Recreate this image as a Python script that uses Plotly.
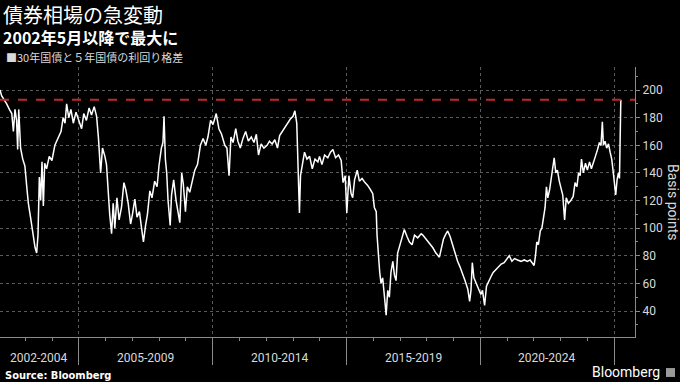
import plotly.graph_objects as go

# 30y - 5y JGB yield spread (basis points) (x in decimal years)
years = [
    2002.05, 2002.11, 2002.20, 2002.30, 2002.40, 2002.49, 2002.55, 2002.61, 2002.67, 2002.71,
    2002.75, 2002.82, 2002.90, 2002.98, 2003.05, 2003.11, 2003.19, 2003.29, 2003.36, 2003.42,
    2003.47, 2003.52, 2003.57, 2003.62, 2003.67, 2003.72, 2003.79, 2003.89, 2003.99, 2004.10,
    2004.23, 2004.33, 2004.41, 2004.48, 2004.54, 2004.62, 2004.70, 2004.79, 2004.89, 2004.99,
    2005.10, 2005.18, 2005.28, 2005.38, 2005.47, 2005.57, 2005.66, 2005.73, 2005.81, 2005.88,
    2005.97, 2006.03, 2006.09, 2006.15, 2006.22, 2006.28, 2006.34, 2006.42, 2006.50, 2006.59,
    2006.68, 2006.75, 2006.84, 2006.93, 2007.00, 2007.09, 2007.17, 2007.26, 2007.34, 2007.41,
    2007.49, 2007.56, 2007.65, 2007.73, 2007.83, 2007.92, 2007.99, 2008.08, 2008.14, 2008.18,
    2008.23, 2008.28, 2008.33, 2008.41, 2008.46, 2008.54, 2008.63, 2008.70, 2008.77, 2008.84,
    2008.90, 2008.98, 2009.05, 2009.14, 2009.23, 2009.33, 2009.43, 2009.54, 2009.64, 2009.74,
    2009.82, 2009.92, 2010.01, 2010.13, 2010.23, 2010.33, 2010.45, 2010.53, 2010.61, 2010.68,
    2010.76, 2010.86, 2010.94, 2011.03, 2011.13, 2011.23, 2011.33, 2011.44, 2011.54, 2011.63,
    2011.71, 2011.81, 2011.91, 2012.03, 2012.12, 2012.22, 2012.32, 2012.42, 2012.50, 2012.60,
    2012.70, 2012.80, 2012.90, 2013.00, 2013.07, 2013.14, 2013.19, 2013.24, 2013.28, 2013.34,
    2013.43, 2013.52, 2013.62, 2013.72, 2013.82, 2013.93, 2013.99, 2014.08, 2014.18, 2014.30,
    2014.40, 2014.49, 2014.59, 2014.70, 2014.80, 2014.87, 2014.95, 2015.01, 2015.09, 2015.17,
    2015.23, 2015.30, 2015.40, 2015.48, 2015.58, 2015.69, 2015.79, 2015.89, 2015.98, 2016.04,
    2016.11, 2016.14, 2016.19, 2016.24, 2016.29, 2016.35, 2016.42, 2016.48, 2016.54, 2016.60,
    2016.66, 2016.73, 2016.79, 2016.85, 2016.91, 2016.99, 2017.06, 2017.16, 2017.26, 2017.35,
    2017.45, 2017.54, 2017.66, 2017.79, 2017.85, 2017.97, 2018.10, 2018.22, 2018.34, 2018.47,
    2018.54, 2018.62, 2018.69, 2018.78, 2018.87, 2018.97, 2019.07, 2019.15, 2019.24, 2019.34,
    2019.43, 2019.53, 2019.60, 2019.65, 2019.70, 2019.76, 2019.84, 2019.94, 2020.02, 2020.08,
    2020.16, 2020.23, 2020.31, 2020.40, 2020.48, 2020.58, 2020.68, 2020.78, 2020.89, 2020.98,
    2021.08, 2021.18, 2021.28, 2021.39, 2021.52, 2021.64, 2021.76, 2021.86, 2021.95, 2022.01,
    2022.06, 2022.11, 2022.17, 2022.24, 2022.30, 2022.36, 2022.42, 2022.47, 2022.52, 2022.59,
    2022.64, 2022.70, 2022.76, 2022.82, 2022.88, 2022.95, 2023.01, 2023.08, 2023.15, 2023.21,
    2023.29, 2023.38, 2023.47, 2023.54, 2023.61, 2023.67, 2023.73, 2023.78, 2023.85, 2023.93,
    2024.00, 2024.08, 2024.15, 2024.23, 2024.30, 2024.38, 2024.45, 2024.51, 2024.56, 2024.60,
    2024.66, 2024.72, 2024.79, 2024.85, 2024.91, 2024.97, 2025.02, 2025.06, 2025.11, 2025.16,
    2025.20, 2025.22, 2025.25,
]
spread_bp = [
    200, 196, 193, 190, 186, 183, 170, 186, 178, 157,
    186, 158, 150, 145, 130, 118, 108, 95, 86, 82,
    95, 137, 120, 148, 116, 147, 143, 152, 149, 160,
    166, 170, 180, 176, 190, 180, 186, 176, 184, 178,
    172, 183, 178, 187, 182, 188, 181, 165, 140, 158,
    152, 146, 125, 110, 96, 118, 100, 122, 106, 115,
    133, 128, 118, 103, 110, 121, 108, 112, 100, 90,
    102, 110, 127, 122, 134, 130, 145, 158, 162, 181,
    150, 140, 120, 102, 124, 135, 120, 112, 104, 140,
    132, 112, 130, 126, 134, 142, 146, 160, 165, 160,
    166, 178, 175, 183, 172, 168, 160, 158, 138, 166,
    162, 172, 163, 158, 165, 170, 163, 166, 162, 168,
    153, 161, 158, 160, 163, 161, 164, 158, 167, 170,
    173, 176, 179, 181, 185, 176, 140, 111, 138, 146,
    155, 150, 152, 143, 150, 148, 152, 146, 153, 151,
    155, 157, 151, 153, 149, 133, 138, 111, 138, 125,
    122, 135, 142, 134, 136, 133, 131, 128, 125, 115,
    112, 95, 77, 68, 60, 64, 50, 37, 55, 50,
    68, 76, 66, 62, 82, 88, 92, 99, 94, 90,
    88, 95, 93, 96, 95, 92, 89, 86, 82, 79,
    85, 92, 95, 98, 94, 87, 80, 76, 72, 67,
    62, 56, 47, 55, 75, 64, 60, 56, 52, 55,
    44, 58, 62, 65, 68, 70, 72, 74, 75, 77,
    80, 76, 78, 77, 76, 77, 76, 77, 75, 73,
    80, 90, 88, 98, 100, 108, 115, 130, 122, 128,
    135, 140, 151, 140, 142, 134, 130, 124, 106, 122,
    118, 120, 123, 133, 130, 140, 138, 150, 140, 147,
    142, 148, 143, 147, 152, 157, 162, 160, 177, 160,
    163, 158, 161, 155, 150, 140, 132, 124, 135, 140,
    136, 180, 193,
]

period_labels = ["2002-2004", "2005-2009", "2010-2014", "2015-2019", "2020-2024"]
period_bounds = [2002.05, 2005, 2010, 2015, 2020, 2025]
y_ticks = [40, 60, 80, 100, 120, 140, 160, 180, 200]

title = "債券相場の急変動"
subtitle = "2002年5月以降で最大に"
legend_text = "■30年国債と５年国債の利回り格差"
y_title = "Basis points"
source = "Source: Bloomberg"

FONT = "Roboto, 'Noto Sans CJK JP', sans-serif"
JP = "'Noto Sans CJK JP', sans-serif"
GRID = "#5a5a5a"
AX = "#8a8a8a"
TXT = "#d9d9d9"

x_range = [2002.05, 2025.78]
y_range = [21.2, 216.7]

# canvas is a bit wider than the 680px window; the extra strip is off-screen
W = 720
PLOT_W = 635

fig = go.Figure()
fig.add_trace(go.Scatter(x=years, y=spread_bp, mode="lines",
                         line=dict(color="white", width=1.5), hoverinfo="skip",
                         showlegend=False))

latest = spread_bp[-1]
fig.add_shape(type="line", xref="paper", yref="y", x0=0, x1=1, y0=latest, y1=latest,
              line=dict(color="#c0282b", width=1.8, dash="dash"), layer="above")

annotations = []
for i, lab in enumerate(period_labels):
    mid = (period_bounds[i] + period_bounds[i + 1]) / 2
    annotations.append(dict(x=mid, y=-0.078, xref="x", yref="paper", text=lab,
                            showarrow=False, xanchor="center", yanchor="middle",
                            font=dict(family=FONT, size=12, color=TXT)))

annotations += [
    dict(x=0, y=1.196, xref="paper", yref="paper", xshift=1, text=title, showarrow=False,
         xanchor="left", yanchor="middle", font=dict(family=JP, size=20, color="white")),
    dict(x=0, y=1.112, xref="paper", yref="paper", xshift=1, text="<b>" + subtitle + "</b>",
         showarrow=False, xanchor="left", yanchor="middle",
         font=dict(family=JP, size=16, color="white")),
    dict(x=0, y=1.037, xref="paper", yref="paper", xshift=4, text=legend_text, showarrow=False,
         xanchor="left", yanchor="middle", font=dict(family=JP, size=11, color=TXT)),
    dict(x=1, y=0.5, xref="paper", yref="paper", xshift=38, text=y_title, showarrow=False,
         textangle=90, xanchor="center", yanchor="middle",
         font=dict(family=FONT, size=14, color=TXT)),
    dict(x=0, y=-0.141, xref="paper", yref="paper", xshift=3, text="<b>" + source + "</b>",
         showarrow=False, xanchor="left", yanchor="middle",
         font=dict(family="'Liberation Sans Narrow', 'DejaVu Sans Condensed', sans-serif",
                   size=11, color="white")),
    dict(x=1, y=-0.131, xref="paper", yref="paper", xshift=27, text="Bloomberg",
         showarrow=False, xanchor="right", yanchor="middle",
         font=dict(family=FONT, size=14, color="white")),
]

# small logo mark next to "Bloomberg"
fig.add_shape(type="rect", xref="paper", yref="paper", x0=666 / PLOT_W, x1=675 / PLOT_W,
              y0=-0.148, y1=-0.115, fillcolor="#9a9a9a", line=dict(width=0))

fig.update_layout(
    width=W, height=382,
    margin=dict(l=0, r=W - PLOT_W, t=67, b=45),
    paper_bgcolor="black", plot_bgcolor="black",
    annotations=annotations,
    xaxis=dict(range=x_range, tickmode="array", tickvals=period_bounds[1:],
               showticklabels=False, ticks="outside", ticklen=27, tickcolor=AX, tickwidth=1,
               showgrid=True, gridcolor=GRID, griddash="dot", gridwidth=1,
               showline=True, linecolor=AX, linewidth=1, zeroline=False,
               minor=dict(tickmode="linear", tick0=2002, dtick=1, ticks="outside",
                          ticklen=3, tickcolor=AX, showgrid=False)),
    yaxis=dict(range=y_range, side="right", tickmode="array", tickvals=y_ticks,
               ticks="outside", ticklen=4, tickcolor=AX,
               tickfont=dict(family=FONT, size=12, color=TXT),
               showgrid=True, gridcolor=GRID, griddash="dot", gridwidth=1,
               showline=True, linecolor=AX, linewidth=1, zeroline=False,
               minor=dict(tickmode="linear", tick0=0, dtick=10, ticks="outside",
                          ticklen=2, tickcolor=AX, showgrid=False)),
)

fig.write_html(
    "out.html",
    config={"displayModeBar": False},
    post_script=("document.body.style.margin='0';document.body.style.background='black';"
                 "document.body.style.overflow='hidden';"
                 "document.documentElement.style.overflow='hidden';"),
)
